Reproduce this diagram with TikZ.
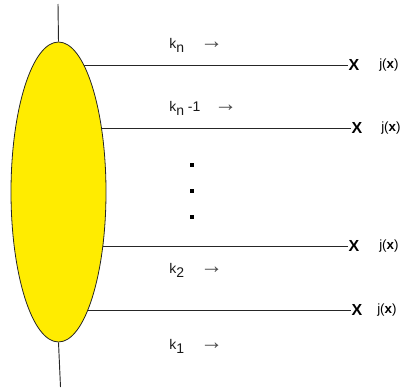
\documentclass[tikz,border=0pt]{standalone}
\usepackage{fontspec}
\setmainfont{Liberation Sans}
\usetikzlibrary{shapes.geometric,backgrounds}
\definecolor{blobyellow}{RGB}{255,236,0}
\newcommand{\lowsub}[1]{\raisebox{-3.6pt}{#1}}
\tikzset{
    blob/.style={ellipse, draw=black!85, fill=blobyellow, line width=0.6pt,
        minimum width=71.25pt, minimum height=225pt, inner sep=0pt},
    leg/.style={black!85, line width=0.7pt},
    xmark/.style={inner sep=0pt, font=\fontsize{12}{12}\selectfont\bfseries},
    srclbl/.style={anchor=west, inner sep=0pt, font=\fontsize{10}{10}\selectfont},
    momlbl/.style={anchor=base west, inner sep=0pt, font=\fontsize{10.5}{12}\selectfont, black!90},
    momarrow/.style={anchor=base west, inner sep=0pt, font=\fontsize{17}{17}\selectfont, black!70},
    vdot/.style={fill=black, minimum size=3pt, inner sep=0pt}
}
\begin{document}
\begin{tikzpicture}[x=0.75pt, y=-0.75pt]
    \useasboundingbox (0,0) rectangle (404,389);
    % BLOB
    \node[blob] (blob) at (58.5,192) {};
    \coordinate (top) at (58,4);
    \coordinate (bot) at (60.5,387);
    \draw[leg] (top) -- (blob.north);
    \draw[leg] (blob.south) -- (bot);
    % SOURCES j(x)
    \foreach \i/\yy/\xx/\jx in {1/65/354/379, 2/128/357/381, 3/246/354/379, 4/310/357/377} {
        \node[xmark] (x\i) at (\xx,\yy) {X};
        \node[srclbl] (j\i) at (\jx,\yy) {j(\textbf{x})};
        \begin{pgfonlayer}{background}
            \draw[leg] (blob.center |- x\i) -- (x\i.west);
        \end{pgfonlayer}
    }
    % MOMENTA
    \node[momlbl] (k1) at (169,48) {k\lowsub{n}};
    \node[momlbl] (k2) at (169,111) {k\lowsub{n} -1};
    \node[momlbl] (k3) at (169,273) {k\lowsub{2}};
    \node[momlbl] (k4) at (169,349) {k\lowsub{1}};
    \foreach \i/\ax in {1/200, 2/214, 3/200, 4/200} {
        \node[momarrow] (a\i) at (\ax,0 |- k\i.base) {→};
    }
    % DOTS
    \foreach \i/\yy in {1/165, 2/191, 3/217} {
        \node[vdot] (d\i) at (192,\yy) {};
    }
\end{tikzpicture}
\end{document}
